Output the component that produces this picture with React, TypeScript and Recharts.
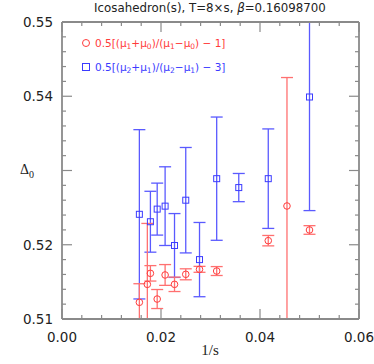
import { ScatterChart, Scatter, XAxis, YAxis, ErrorBar } from 'recharts'

// 1/s positions and Delta_0 estimates
const redX = [0.01563, 0.01724, 0.01786, 0.01923, 0.02083, 0.02273, 0.025, 0.02778, 0.03125, 0.04167, 0.04545, 0.05]
const redY = [0.51225, 0.51467, 0.51615, 0.51269, 0.51593, 0.51467, 0.51602, 0.51669, 0.51646, 0.52055, 0.52522, 0.52199]
const redErr = [0.0025, 0.0082, 0.00104, 0.00128, 0.0014, 0.00097, 0.00074, 0.0004, 0.0006, 0.0007, 0.0173, 0.00058]

const blueX = [0.01563, 0.01786, 0.01923, 0.02083, 0.02273, 0.025, 0.02778, 0.03125, 0.03571, 0.04167, 0.05]
const blueY = [0.5241, 0.5231, 0.5248, 0.5252, 0.5199, 0.526, 0.518, 0.5289, 0.5277, 0.5289, 0.5399]
const blueErr = [0.0114, 0.0041, 0.0035, 0.0053, 0.0043, 0.0071, 0.005, 0.0083, 0.0019, 0.0067, 0.0153]

const xTicks = [0, 0.004, 0.008, 0.012, 0.016, 0.02, 0.024, 0.028, 0.032, 0.036, 0.04, 0.044, 0.048, 0.052, 0.056, 0.06]
const yTicks = [0.51, 0.512, 0.514, 0.516, 0.518, 0.52, 0.522, 0.524, 0.526, 0.528, 0.53, 0.532, 0.534, 0.536, 0.538, 0.54, 0.542, 0.544, 0.546, 0.548, 0.55]
// the original leaves 0.53 unlabelled, the axis title sits there
const yLabels = ['0.51', '0.52', '0.54', '0.55']

const RED = '#ff3b3b'
const BLUE = '#3b3bff'
const FRAME = '#8a8a8a'

const redData = redX.map((x, i) => ({ x, y: redY[i], err: redErr[i] }))
const blueData = blueX.map((x, i) => ({ x, y: blueY[i], err: blueErr[i] }))

const isMajorX = (v: number) => Math.abs(v / 0.02 - Math.round(v / 0.02)) < 1e-6
const isMajorY = (v: number) => Math.abs(v / 0.01 - Math.round(v / 0.01)) < 1e-6

function BottomTick({ x, y, payload }: any) {
  const major = isMajorX(payload.value)
  return (
    <g>
      <line x1={x} x2={x} y1={y} y2={y - (major ? 10 : 4)} stroke={FRAME} strokeWidth={1.2} />
      {major && (
        <text x={x} y={y + 23} textAnchor="middle" fontSize={13.5} fill="#222" fontFamily="DejaVu Sans">
          {payload.value.toFixed(2)}
        </text>
      )}
    </g>
  )
}

function TopTick({ x, y, payload }: any) {
  const major = isMajorX(payload.value)
  return <line x1={x} x2={x} y1={y} y2={y + (major ? 10 : 4)} stroke={FRAME} strokeWidth={1.2} />
}

function LeftTick({ x, y, payload }: any) {
  const major = isMajorY(payload.value)
  const label = payload.value.toFixed(2)
  return (
    <g>
      <line x1={x} x2={x + (major ? 10 : 4)} y1={y} y2={y} stroke={FRAME} strokeWidth={1.2} />
      {major && yLabels.includes(label) && (
        <text x={x - 9} y={y + 5} textAnchor="end" fontSize={13.5} fill="#222" fontFamily="DejaVu Sans">
          {label}
        </text>
      )}
    </g>
  )
}

function RightTick({ x, y, payload }: any) {
  const major = isMajorY(payload.value)
  return <line x1={x} x2={x - (major ? 10 : 4)} y1={y} y2={y} stroke={FRAME} strokeWidth={1.2} />
}

const circleShape = (p: any) => <circle cx={p.cx} cy={p.cy} r={3.3} fill="none" stroke={RED} strokeWidth={1} />
const squareShape = (p: any) => <rect x={p.cx - 3} y={p.cy - 3} width={6} height={6} fill="none" stroke={BLUE} strokeWidth={1} />

const legendRow = { fontFamily: 'DejaVu Sans', fontSize: 10.5, whiteSpace: 'nowrap' as const, height: 24, lineHeight: '14px' }
const sub = { fontSize: 7.5, lineHeight: 0, verticalAlign: '-2px' }

export default function App() {
  return (
    <div style={{ position: 'absolute', left: 0, top: 0, width: 374, height: 364 }}>
      <style>{`.recharts-errorBars, .recharts-scatter-symbol { clip-path: url(#plotClip); }`}</style>
      <ScatterChart width={374} height={364} margin={{ top: 21, right: 14, bottom: 44, left: 61 }}>
        <defs>
          <clipPath id="plotClip">
            <rect x={62} y={22} width={297} height={297} />
          </clipPath>
        </defs>
        <XAxis
          xAxisId="b"
          type="number"
          dataKey="x"
          domain={[0, 0.06]}
          ticks={xTicks}
          interval={0}
          allowDataOverflow
          height={1}
          tickSize={0}
          tickMargin={0}
          tick={BottomTick}
          axisLine={{ stroke: FRAME, strokeWidth: 1.8 }}
        />
        <XAxis
          xAxisId="t"
          orientation="top"
          type="number"
          dataKey="x"
          domain={[0, 0.06]}
          ticks={xTicks}
          interval={0}
          allowDataOverflow
          height={1}
          tickSize={0}
          tickMargin={0}
          tick={TopTick}
          axisLine={{ stroke: FRAME, strokeWidth: 1.8 }}
        />
        <YAxis
          yAxisId="l"
          type="number"
          dataKey="y"
          domain={[0.51, 0.55]}
          ticks={yTicks}
          interval={0}
          allowDataOverflow
          width={1}
          tickSize={0}
          tickMargin={0}
          tick={LeftTick}
          axisLine={{ stroke: FRAME, strokeWidth: 1.8 }}
        />
        <YAxis
          yAxisId="r"
          orientation="right"
          type="number"
          dataKey="y"
          domain={[0.51, 0.55]}
          ticks={yTicks}
          interval={0}
          allowDataOverflow
          width={1}
          tickSize={0}
          tickMargin={0}
          tick={RightTick}
          axisLine={{ stroke: FRAME, strokeWidth: 1.8 }}
        />
        <Scatter data={blueData} xAxisId="b" yAxisId="l" shape={squareShape} isAnimationActive={false}>
          <ErrorBar dataKey="err" direction="y" width={6} stroke="#5a5aff" strokeWidth={1.3} isAnimationActive={false} />
        </Scatter>
        <Scatter data={redData} xAxisId="b" yAxisId="l" shape={circleShape} isAnimationActive={false}>
          <ErrorBar dataKey="err" direction="y" width={6} stroke="#ff7070" strokeWidth={1.3} isAnimationActive={false} />
        </Scatter>
        <text x={210} y={12} textAnchor="middle" fontSize={11.8} fill="#222" fontFamily="DejaVu Sans">
          Icosahedron(s), T=8×s, <tspan fontStyle="italic">β</tspan>=0.16098700
        </text>
        <text x={20} y={174} fontSize={14} fill="#222" fontFamily="Liberation Serif">
          Δ<tspan fontSize={10} dy={4}>0</tspan>
        </text>
        <text x={210} y={355} textAnchor="middle" fontSize={15} fill="#222" fontFamily="Liberation Serif">
          1/s
        </text>
      </ScatterChart>
      <div style={{ position: 'absolute', left: 82, top: 36 }}>
        <div style={{ ...legendRow, color: RED }}>
          <span style={{ display: 'inline-block', width: 6, height: 6, border: `1px solid ${RED}`, borderRadius: '50%', marginRight: 5 }} />
          0.5[(μ<sub style={sub}>1</sub>+μ<sub style={sub}>0</sub>)/(μ<sub style={sub}>1</sub>−μ<sub style={sub}>0</sub>) − 1]
        </div>
        <div style={{ ...legendRow, color: BLUE }}>
          <span style={{ display: 'inline-block', width: 6, height: 6, border: `1px solid ${BLUE}`, marginRight: 5 }} />
          0.5[(μ<sub style={sub}>2</sub>+μ<sub style={sub}>1</sub>)/(μ<sub style={sub}>2</sub>−μ<sub style={sub}>1</sub>) − 3]
        </div>
      </div>
    </div>
  )
}
